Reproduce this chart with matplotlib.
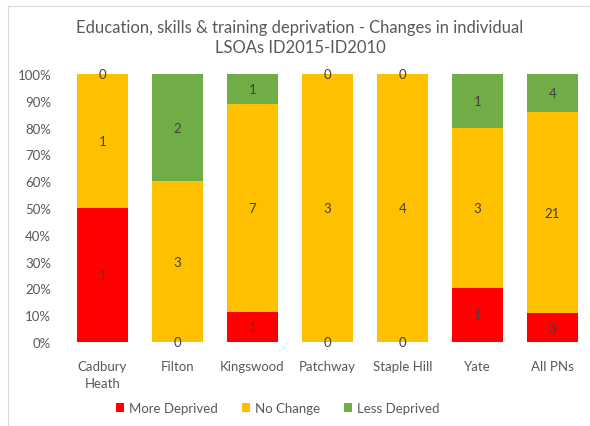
import numpy as np
import matplotlib.pyplot as plt
import matplotlib.patches as patches

plt.rcParams['font.family'] = ['Lato', 'DejaVu Sans']

areas = ['Cadbury\nHeath', 'Filton', 'Kingswood', 'Patchway', 'Staple Hill', 'Yate', 'All PNs']
more_deprived = [1, 0, 1, 0, 0, 1, 3]
no_change = [1, 3, 7, 3, 4, 3, 21]
less_deprived = [0, 2, 1, 0, 0, 1, 4]

series = [('More Deprived', more_deprived, '#FF0000'),
          ('No Change', no_change, '#FFC000'),
          ('Less Deprived', less_deprived, '#70AD47')]

W, H = 590, 427
fig = plt.figure(figsize=(W / 100, H / 100), dpi=100)
# chart border
fig.add_artist(patches.Rectangle((8 / W, -0.05), 1.1, 1 - 7 / H + 0.05, transform=fig.transFigure,
                                 fill=False, edgecolor='#D9D9D9', linewidth=0.8))

ax = fig.add_axes([65 / W, (H - 343) / H, (590 - 65) / W, (343 - 75) / H])

totals = np.array(more_deprived) + np.array(no_change) + np.array(less_deprived)
x = np.arange(len(areas))
bottom = np.zeros(len(areas))
for name, vals, col in series:
    vals = np.array(vals)
    pct = vals / totals * 100
    bars = ax.bar(x, pct, 0.667, bottom=bottom, color=col, label=name, linewidth=0)
    ax.bar_label(bars, labels=[str(v) for v in vals], label_type='center',
                 fontsize=9.5, color='#404040')
    bottom += pct

ax.set_xlim(-0.5, len(areas) - 0.5)
ax.set_ylim(0, 100)
ax.set_yticks(np.arange(0, 101, 10))
ax.set_yticklabels([f'{v}%' for v in range(0, 101, 10)])
ax.set_xticks(x)
ax.set_xticklabels(areas, linespacing=1.5)
ax.tick_params(length=0, labelsize=9.5, colors='#595959')
ax.tick_params(axis='x', pad=13)
ax.tick_params(axis='y', pad=10)
for s in ax.spines.values():
    s.set_visible(False)

fig.text(300 / W, 1 - 38 / H, 'Education, skills & training deprivation - Changes in individual\nLSOAs ID2015-ID2010',
         ha='center', va='center', fontsize=12, color='#595959', linespacing=1.35)

fig.legend(loc='center', bbox_to_anchor=(278 / W, 1 - 409 / H), ncol=3, frameon=False,
           fontsize=9.5, handlelength=0.6, handleheight=0.6, handletextpad=0.4, columnspacing=1.8,
           labelcolor='#595959')

fig.savefig('out.png', dpi=100)
